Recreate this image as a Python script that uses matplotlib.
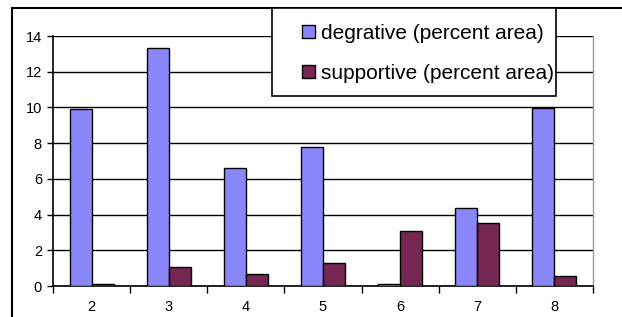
import matplotlib
matplotlib.use("Agg")
import matplotlib.pyplot as plt
from matplotlib.patches import Rectangle
import numpy as np

categories = ["2", "3", "4", "5", "6", "7", "8"]
degrative = [9.9, 13.35, 6.63, 7.78, 0.12, 4.37, 9.95]
supportive = [0.13, 1.06, 0.67, 1.29, 3.1, 3.55, 0.54]
series_names = ["degrative (percent area)", "supportive (percent area)"]

plt.rcParams['font.family'] = ['Liberation Sans', 'DejaVu Sans']

W, H = 622, 317
fig = plt.figure(figsize=(W/100, H/100), dpi=100)
ax = fig.add_axes([53/W, 1-286/H, (593-53)/W, (286-36)/H])

x = np.arange(len(categories))
w = 1/3.5
b1 = ax.bar(x - w/2, degrative, w, color='#8a87fb', edgecolor='black', linewidth=1.0, zorder=3, label=series_names[0])
b2 = ax.bar(x + w/2, supportive, w, color='#762652', edgecolor='black', linewidth=1.0, zorder=3, label=series_names[1])

ax.set_xlim(-0.5, len(categories) - 0.5)
ax.set_ylim(0, 14)
ax.set_yticks(np.arange(0, 15, 2))
ax.yaxis.grid(True, color='black', linewidth=1.0, zorder=0)
ax.set_axisbelow(True)

ax.set_xticks(x)
ax.set_xticklabels(categories)
ax.set_xticks(np.arange(-0.5, len(categories), 1), minor=True)
ax.tick_params(axis='x', which='major', length=0, pad=10, labelsize=10.5)
ax.tick_params(axis='x', which='minor', length=5, width=1, direction='out')
ax.tick_params(axis='y', length=4, width=1, pad=4, labelsize=10.5)

for s in ['left', 'bottom']:
    ax.spines[s].set_color('black')
    ax.spines[s].set_linewidth(1.2)
ax.spines['top'].set_visible(False)
ax.spines['right'].set_color('#999999')
ax.spines['right'].set_linewidth(1.0)

# outer chart border (extends past the image edge)
fig.add_artist(Rectangle((12/W, -0.1), 1.2, (1-8/H)+0.1, transform=fig.transFigure,
                         fill=False, edgecolor='black', linewidth=1.5, zorder=0))

# legend box
fig.add_artist(Rectangle((272/W, 1-96/H), (556-272)/W, (96-8)/H, transform=fig.transFigure,
                         facecolor='white', edgecolor='black', linewidth=1.2, zorder=5))
leg = fig.legend(handles=[b1, b2], labels=series_names, loc='upper left',
                 bbox_to_anchor=(298/W, 1-20/H), bbox_transform=fig.transFigure,
                 frameon=False, fontsize=15, handlelength=0.6, handleheight=0.6,
                 handletextpad=0.3, labelspacing=1.0, borderaxespad=0, borderpad=0.2)
leg.set_zorder(6)

fig.savefig("out.png", dpi=100)
